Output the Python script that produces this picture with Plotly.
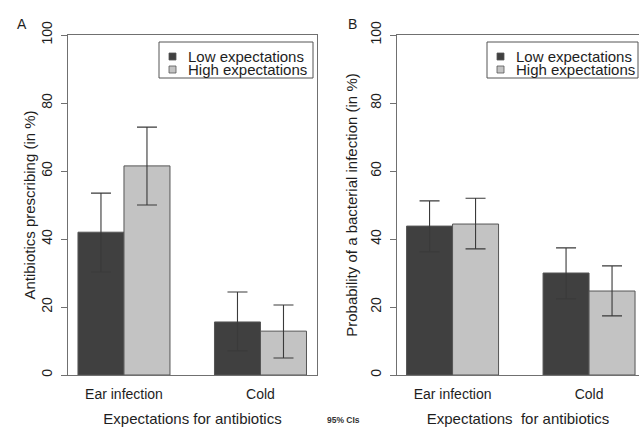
import plotly.graph_objects as go

categories = ["Ear infection", "Cold"]
series_names = ["Low expectations", "High expectations"]

# Panel A: antibiotics prescribing (%)
a_low = [42.0, 15.6]
a_low_hi = [53.5, 24.4]
a_low_lo = [30.3, 7.1]
a_high = [61.5, 12.9]
a_high_hi = [72.9, 20.6]
a_high_lo = [50.0, 5.0]

# Panel B: probability of a bacterial infection (%)
b_low = [43.8, 30.0]
b_low_hi = [51.2, 37.4]
b_low_lo = [36.2, 22.4]
b_high = [44.4, 24.7]
b_high_hi = [52.0, 32.1]
b_high_lo = [37.1, 17.4]

colors = ["#404040", "#c3c3c3"]
W, H = 639, 427
FONT = "Liberation Sans, Arial, sans-serif"
TXT = "#1e1e1e"
xpos = list(range(len(categories)))


def px(x):
    return x / W


def py(y):
    return 1 - y / H


def err(vals, hi, lo):
    return dict(type="data", symmetric=False,
                array=[h - v for h, v in zip(hi, vals)],
                arrayminus=[v - l for v, l in zip(vals, lo)],
                color="#3a3a3a", thickness=1.1, width=10)


fig = go.Figure()
panel_data = [
    ("x", "y", [(a_low, a_low_hi, a_low_lo), (a_high, a_high_hi, a_high_lo)]),
    ("x2", "y2", [(b_low, b_low_hi, b_low_lo), (b_high, b_high_hi, b_high_lo)]),
]
for xa, ya, series in panel_data:
    for i, (vals, hi, lo) in enumerate(series):
        fig.add_trace(go.Bar(
            x=xpos, y=vals, name=series_names[i], xaxis=xa, yaxis=ya,
            showlegend=False,
            marker=dict(color=colors[i], line=dict(color="#555555", width=1)),
            error_y=err(vals, hi, lo),
        ))

axis_line = "#707070"
tickfont = dict(family=FONT, size=14, color=TXT)
titlefont = dict(family=FONT, size=15, color=TXT)

common_x = dict(tickmode="array", tickvals=xpos, ticktext=categories, ticks="",
                showline=True, linecolor=axis_line, linewidth=1, mirror=True,
                showgrid=False, zeroline=False, tickfont=tickfont, automargin=False,
                ticklabelstandoff=6, title_font=titlefont, title_standoff=14)
common_y = dict(range=[0, 100], tickvals=[0, 20, 40, 60, 80, 100], ticks="outside",
                ticklen=6, tickcolor=axis_line, tickangle=-90, showline=True,
                linecolor=axis_line, linewidth=1, showgrid=False, zeroline=False,
                tickfont=tickfont, ticklabelstandoff=3, title_font=titlefont,
                automargin=False)

shapes = []
annotations = []
# manual legends (R style) for both panels
for box_l, box_r in [(159, 313), (487, 638)]:
    shapes.append(dict(type="rect", xref="paper", yref="paper",
                       x0=px(box_l), x1=px(box_r), y0=py(78), y1=py(42),
                       line=dict(color="#555555", width=1), fillcolor="white"))
    for i, yc in enumerate([56.5, 69.5]):
        shapes.append(dict(type="rect", xref="paper", yref="paper",
                           x0=px(box_l + 10), x1=px(box_l + 17),
                           y0=py(yc + 3.5), y1=py(yc - 3.5),
                           line=dict(color="#555555", width=0.8), fillcolor=colors[i]))
        annotations.append(dict(text=series_names[i], x=px(box_l + 27), y=py(yc),
                                xref="paper", yref="paper", xanchor="left",
                                yanchor="middle", showarrow=False,
                                font=dict(family=FONT, size=15, color=TXT)))

annotations += [
    dict(text="A", x=px(22), y=py(24), xref="paper", yref="paper",
         xanchor="center", yanchor="middle",
         showarrow=False, font=dict(family=FONT, size=14, color=TXT)),
    dict(text="B", x=px(352), y=py(24), xref="paper", yref="paper",
         xanchor="center", yanchor="middle",
         showarrow=False, font=dict(family=FONT, size=14, color=TXT)),
    dict(text="<b>95% CIs</b>", x=px(343), y=py(420), xref="paper", yref="paper",
         xanchor="center", yanchor="middle",
         showarrow=False, font=dict(family=FONT, size=8.5, color="#333333")),
]

fig.update_layout(
    width=W, height=H, margin=dict(l=0, r=0, t=0, b=0, autoexpand=False),
    paper_bgcolor="white", plot_bgcolor="white",
    barmode="group", bargap=0.326, bargroupgap=0,
    font=dict(family=FONT, color=TXT),
    xaxis=dict(common_x, domain=[px(68), px(317)], range=[-0.410, 1.414],
               title_text="Expectations for antibiotics", anchor="y"),
    yaxis=dict(common_y, domain=[py(375), py(35)], mirror=True, title_standoff=0,
               title_text="Antibiotics prescribing (in %)", anchor="x"),
    xaxis2=dict(common_x, domain=[px(397), 1.0], range=[-0.407, 1.366],
                title_text="Expectations  for antibiotics", anchor="y2"),
    yaxis2=dict(common_y, domain=[py(375), py(35)], mirror=False, title_standoff=7,
                title_text="Probability of a bacterial infection (in %)", anchor="x2"),
    showlegend=False,
    shapes=shapes,
    annotations=annotations,
)

fig.write_html(
    "out.html",
    config={"displayModeBar": False},
    post_script="document.body.style.margin='0';document.body.style.overflow='hidden';",
)
